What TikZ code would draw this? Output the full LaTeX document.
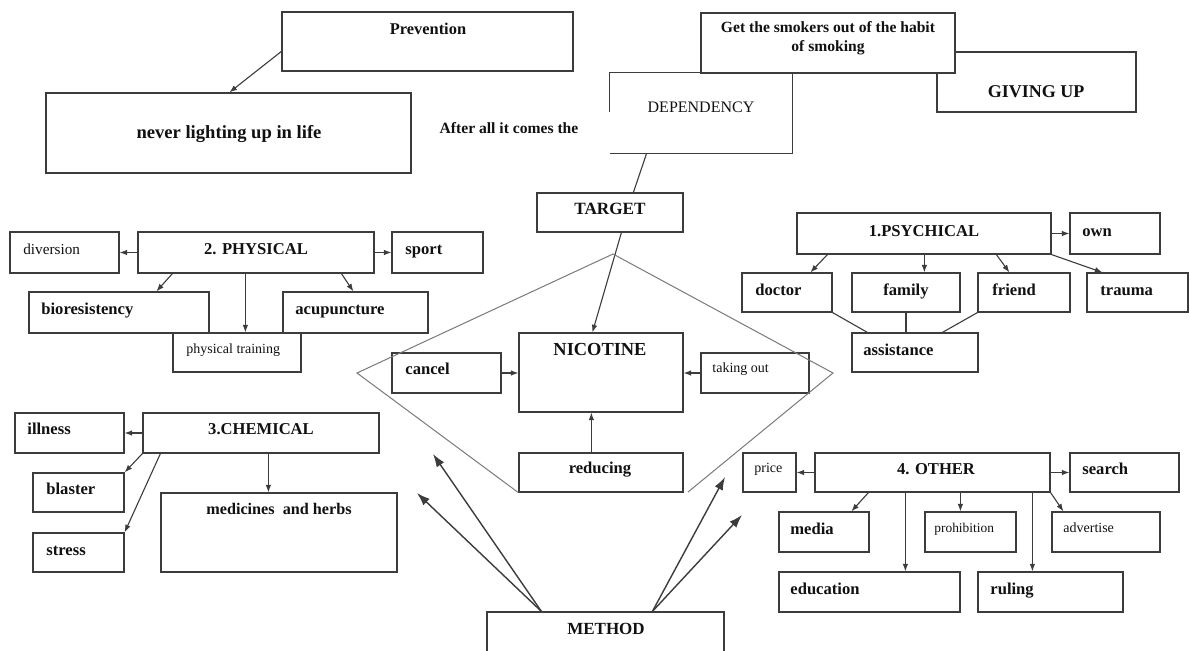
\documentclass[tikz,border=0pt]{standalone}
\usepackage{fontspec}
\setmainfont{Liberation Serif}
\usetikzlibrary{arrows.meta,fit,calc}
\definecolor{lc}{HTML}{3C3C3C}
\definecolor{tc}{HTML}{111111}
\definecolor{dc}{HTML}{7A7A7A}
\newcommand{\bx}[5]{\node[box, fit={(#2,#3)(#4,#5)}] (#1) {};}
\begin{document}
\begin{tikzpicture}[x=0.5pt,y=-0.5pt,
 box/.style={draw=lc, line width=0.6pt, inner sep=0pt, rectangle},
 bt/.style={font=\bfseries\fontsize{#1}{#1}\selectfont, inner sep=0pt, text height=1.5ex, text depth=0.25ex, text=tc},
 bt/.default=8.3,
 rt/.style={font=\fontsize{#1}{#1}\selectfont, inner sep=0pt, text height=1.5ex, text depth=0.25ex, text=tc},
 rt/.default=7,
 ar/.style={draw=lc, line width=0.55pt, -{Latex[length=3.8pt,width=2.8pt]}},
 ln/.style={draw=lc, line width=0.55pt},
 big/.style={draw=lc, line width=0.7pt, -{Latex[length=6.5pt,width=4.5pt]}},
 dia/.style={draw=dc, line width=0.5pt}]
\useasboundingbox (0,0) rectangle (1190,650);
\clip (0,0) rectangle (1190,650);
\fill[white] (0,0) rectangle (1190,650);

% ---------- top area ----------
\bx{prev}{282}{12}{573}{71}
\node[bt=8.2] (prevt) at (428,29) {Prevention};
\bx{never}{46}{93}{411}{173}
\node[bt=9.3] (nevert) at (229,133) {never lighting up in life};
\draw[ar] ($(prev.north west)+(0,40)$) -- ($(never.north west)+(184,0)$);
\node[bt=7.8] (after) at (509,128) {After all it comes the};

\bx{give}{937}{52}{1136}{112}
\node[bt=9] (givet) at (1036,92) {GIVING UP};
\node[box, fill=white, fit={(701,13)(955,73)}] (get) {};
\node[font=\bfseries\fontsize{7.8}{9.5}\selectfont, text=tc, align=center, inner sep=0pt] (gett) at (828,38.5) {Get the smokers out of the habit\\of smoking};

\node[inner sep=0pt, fit={(610,73)(792,153)}] (dep) {};
\draw[draw=lc, line width=0.6pt] ($(dep.north west)+(0,39)$) -- (dep.north west) -- (dep.north east) -- (dep.south east) -- (dep.south west);
\node[rt=8] (dept) at (701,107) {DEPENDENCY};

% ---------- centre ----------
\bx{tgt}{537}{193}{683}{232}
\node[bt=8.6] (tgtt) at (610,209) {TARGET};
\bx{cancel}{392}{353}{501}{393}
\node[bt, anchor=west] (cancelt) at (405,369) {cancel};
\bx{nic}{519}{333}{683}{412}
\node[bt=9.2] (nict) at (600,350) {NICOTINE};
\bx{take}{701}{353}{809}{393}
\node[rt, anchor=west] (taket) at (712,367) {taking out};
\bx{red}{519}{453}{683}{492}
\node[bt] (redt) at (600,468) {reducing};

\draw[ln] ($(dep.south west)+(37,0)$) -- ($(tgt.north west)+(97,0)$);
\draw[ar] ($(tgt.south west)+(85,0)$) -- ($(nic.north west)+(74,0)$);
\draw[ar] (cancel.east) -- (cancel.east -| nic.west);
\draw[ar] (take.west) -- (take.west -| nic.east);
\draw[ar] ($(red.north west)+(73,0)$) -- ($(nic.south west)+(73,0)$);

\coordinate (dl) at (357,373);
\coordinate (dt) at (613,254);
\coordinate (dr) at (833,373);
\coordinate (dbr) at (688,492);
\draw[dia] (red.south west) -- (dl) -- (dt) -- (dr) -- (dbr);

% ---------- physical ----------
\bx{div}{10}{232}{119}{273}
\node[rt=7.6, anchor=west] (divt) at (23,249) {diversion};
\bx{phys}{138}{232}{374}{273}
\node[bt] (physt) at (256,249) {2. PHYSICAL};
\bx{sport}{392}{232}{483}{273}
\node[bt, anchor=west] (sportt) at (405,249) {sport};
\bx{bio}{29}{292}{209}{333}
\node[bt, anchor=west] (biot) at (41,309) {bioresistency};
\bx{acu}{283}{292}{428}{333}
\node[bt, anchor=west] (acut) at (295,309) {acupuncture};
\bx{ptr}{173}{333}{301}{372}
\node[rt, anchor=west] (ptrt) at (186,348) {physical training};
\draw[ar] (phys.west) -- (div.east);
\draw[ar] (phys.east) -- (sport.west);
\draw[ar] ($(phys.south west)+(35,0)$) -- ($(bio.north west)+(128,0)$);
\draw[ar] ($(phys.south west)+(108,0)$) -- ($(ptr.north west)+(73,0)$);
\draw[ar] ($(phys.south west)+(204,0)$) -- ($(acu.north west)+(71,0)$);

% ---------- psychical ----------
\bx{psy}{797}{213}{1051}{254}
\node[bt] (psyt) at (924,231) {1.PSYCHICAL};
\bx{own}{1070}{213}{1160}{254}
\node[bt, anchor=west] (ownt) at (1082,231) {own};
\bx{doc}{742}{273}{832}{312}
\node[bt, anchor=west] (doct) at (755,290) {doctor};
\bx{fam}{852}{273}{960}{312}
\node[bt] (famt) at (906,290) {family};
\bx{fri}{978}{273}{1070}{312}
\node[bt, anchor=west] (frit) at (992,290) {friend};
\bx{trau}{1087}{273}{1188}{312}
\node[bt, anchor=west] (traut) at (1100,290) {trauma};
\bx{assist}{852}{333}{978}{372}
\node[bt, anchor=west] (assistt) at (863,350) {assistance};
\draw[ar] (psy.east) -- (own.west);
\draw[ar] ($(psy.south west)+(31,0)$) -- ($(doc.north west)+(69,0)$);
\draw[ar] ($(psy.south west)+(128,0)$) -- ($(fam.north west)+(73,0)$);
\draw[ar] ($(psy.south west)+(200,0)$) -- ($(fri.north west)+(32,0)$);
\draw[ar] (psy.south east) -- ($(trau.north west)+(16,0)$);
\draw[ln] (doc.south east) -- ($(assist.north west)+(16,0)$);
\draw[ln] (fam.south) -- (fam.south |- assist.north);
\draw[ln] (fri.south west) -- ($(assist.north west)+(91,0)$);

% ---------- chemical ----------
\bx{ill}{15}{413}{124}{453}
\node[bt, anchor=west] (illt) at (27,429) {illness};
\bx{chem}{143}{413}{379}{453}
\node[bt] (chemt) at (261,429) {3.CHEMICAL};
\bx{blast}{33}{473}{124}{512}
\node[bt, anchor=west] (blastt) at (46,489) {blaster};
\bx{stress}{33}{533}{124}{572}
\node[bt, anchor=west] (stresst) at (46,550) {stress};
\bx{med}{161}{493}{397}{572}
\node[bt=8.1] (medt) at (279,509) {medicines\ \ and herbs};
\draw[ar] (chem.west) -- (ill.east);
\draw[ar] (chem.south west) -- (blast.north east);
\draw[ar] ($(chem.south west)+(18,0)$) -- (stress.north east);
\draw[ar] ($(chem.south west)+(126,0)$) -- ($(med.north west)+(108,0)$);

% ---------- other ----------
\bx{price}{743}{453}{796}{492}
\node[rt, anchor=west] (pricet) at (754,467) {price};
\bx{other}{815}{453}{1050}{492}
\node[bt] (othert) at (936,469) {4. OTHER};
\bx{search}{1070}{453}{1179}{492}
\node[bt, anchor=west] (searcht) at (1082,469) {search};
\bx{media}{779}{512}{869}{552}
\node[bt, anchor=west] (mediat) at (790,529) {media};
\bx{prohib}{925}{512}{1016}{552}
\node[rt=6.7, anchor=west] (prohibt) at (934,527) {prohibition};
\bx{adv}{1052}{512}{1160}{552}
\node[rt, anchor=west] (advt) at (1063,527) {advertise};
\bx{edu}{779}{572}{960}{612}
\node[bt, anchor=west] (edut) at (790,589) {education};
\bx{rul}{978}{572}{1123}{612}
\node[bt, anchor=west] (rult) at (990,589) {ruling};
\draw[ar] (other.west) -- (price.east);
\draw[ar] (other.east) -- (search.west);
\draw[ar] ($(other.south west)+(54,0)$) -- ($(media.north west)+(73,0)$);
\draw[ar] ($(other.south west)+(91,0)$) -- ($(edu.north west)+(127,0)$);
\draw[ar] ($(other.south west)+(146,0)$) -- ($(prohib.north west)+(36,0)$);
\draw[ar] ($(other.south west)+(218,0)$) -- ($(rul.north west)+(55,0)$);
\draw[ar] (other.south east) -- ($(adv.north west)+(12,0)$);

% ---------- method ----------
\bx{meth}{487}{612}{724}{680}
\node[bt=8.5] (metht) at (606,629) {METHOD};
\coordinate (m1) at (433,454);
\coordinate (m2) at (417,493);
\coordinate (m3) at (725,477);
\coordinate (m4) at (742,515);
\draw[big] ($(meth.north west)+(55,0)$) -- (m1);
\draw[big] ($(meth.north west)+(55,0)$) -- (m2);
\draw[big] ($(meth.north west)+(166,0)$) -- (m3);
\draw[big] ($(meth.north west)+(166,0)$) -- (m4);
\end{tikzpicture}
\end{document}
